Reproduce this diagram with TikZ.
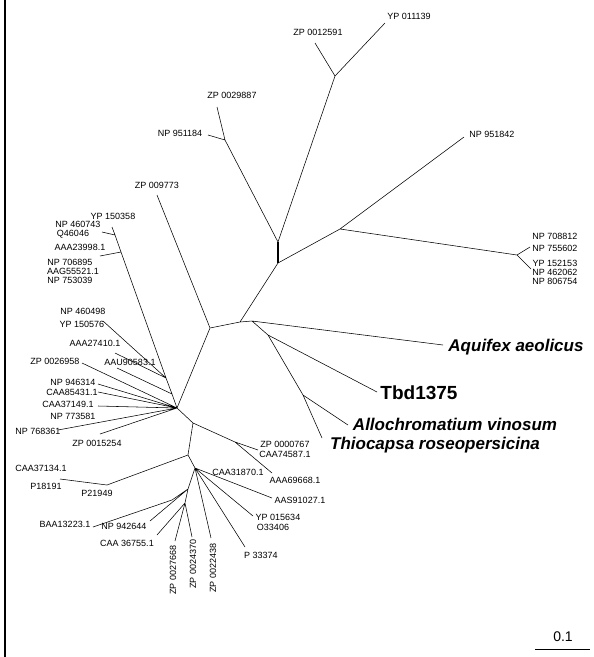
\documentclass[tikz,border=0pt]{standalone}
\usepackage{fontspec}
\setmainfont{Liberation Sans}
\usetikzlibrary{positioning}

\begin{document}
\begin{tikzpicture}[x=1pt,y=-1pt,
  lbl/.style={font=\fontsize{9}{9}\selectfont,inner sep=0pt},
  species/.style={font=\fontsize{17}{18}\selectfont\bfseries\itshape,inner sep=0pt},
  strain/.style={font=\fontsize{19}{20}\selectfont\bfseries,inner sep=0pt},
  branch/.style={line width=0.55pt},
  trunk/.style={line width=1.4pt}
]
\useasboundingbox (0,0) rectangle (594,657);
\coordinate (edgetop) at (5,0);
\coordinate (edgebot) at (5,657);
\draw[line width=1.5pt] (edgetop) -- (edgebot);

% inner nodes of the tree
\coordinate (a) at (278,242);
\coordinate (b) at (278,263);
\coordinate (e) at (335,76);
\coordinate (f) at (225,140);
\coordinate (c) at (340,229);
\coordinate (d) at (517,255);
\coordinate (g) at (240,322);
\coordinate (g2) at (252,321);
\coordinate (i) at (268,335);
\coordinate (j) at (303,395);
\coordinate (h) at (210,328);
\coordinate (k) at (177,408);
\coordinate (q1) at (172,394);
\coordinate (q2) at (166,378);
\coordinate (m) at (121,252);
\coordinate (n) at (115,235);
\coordinate (r) at (193,423);
\coordinate (t) at (235,442);
\coordinate (s) at (188,455);
\coordinate (u) at (107,485);
\coordinate (v) at (195,468);
\coordinate (v2) at (188,489);
\coordinate (v3) at (172,500);
\coordinate (v4) at (185,503);

% leaf ends
\coordinate (tYP011139) at (385,23);
\coordinate (tZP0012591) at (315,43);
\coordinate (tZP0029887) at (217,107);
\coordinate (tNP951184) at (208,135);
\coordinate (tNP951842) at (464,137);
\coordinate (tNP755602) at (530,247);
\coordinate (tYP152153) at (531,269);
\coordinate (tAquifex) at (443,345);
\coordinate (tTbd) at (377,392);
\coordinate (tAllo) at (348,425);
\coordinate (tThio) at (322,438);
\coordinate (tZP009773) at (157,195);
\coordinate (tYP150358) at (112,227);
\coordinate (tNP460743) at (102,232);
\coordinate (tAAA23998) at (100,256);
\coordinate (tYP150576) at (103,321);
\coordinate (tAAA27410) at (115,353);
\coordinate (tAAU90583) at (117,368);
\coordinate (tZP0026958) at (82,363);
\coordinate (tNP946314) at (98,384);
\coordinate (tCAA85431) at (98,392);
\coordinate (tCAA37149) at (98,406);
\coordinate (tNP768361) at (58,430);
\coordinate (tZP0015254) at (100,434);
\coordinate (tZP0000767) at (258,450);
\coordinate (tAAA69668) at (272,473);
\coordinate (tCAA37134) at (60,479);
\coordinate (tAAS91027) at (272,498);
\coordinate (tYP015634) at (253,516);
\coordinate (tP33374) at (245,547);
\coordinate (tZP0022438) at (211,538);
\coordinate (tNP942644) at (150,521);
\coordinate (tBAA13223) at (93,527);
\coordinate (tCAA36755) at (157,535);
\coordinate (tZP0027668) at (175,541);
\coordinate (tZP0024370) at (192,537);

% branches
\draw[trunk] (a) -- (b);
\draw[branch] (a) -- (e) (e) -- (tYP011139) (e) -- (tZP0012591)
  (a) -- (f) (f) -- (tZP0029887) (f) -- (tNP951184)
  (b) -- (c) (c) -- (tNP951842) (c) -- (d) (d) -- (tNP755602) (d) -- (tYP152153)
  (b) -- (g) (g) -- (g2) (g2) -- (tAquifex) (g2) -- (i)
  (i) -- (tTbd) (i) -- (j) (j) -- (tAllo) (j) -- (tThio)
  (g) -- (h) (h) -- (tZP009773) (h) -- (k);
\draw[branch] (k) -- (q1) -- (q2) -- (m) -- (n) -- (tYP150358)
  (n) -- (tNP460743) (m) -- (tAAA23998)
  (q2) -- (tYP150576) (q2) -- (tAAA27410) (q1) -- (tAAU90583)
  (k) -- (tZP0026958) (k) -- (tNP946314) (k) -- (tCAA85431) (k) -- (tCAA37149)
  (k) -- (tNP768361) (k) -- (tZP0015254);
\draw[branch] (k) -- (r) (r) -- (t) (t) -- (tZP0000767) (t) -- (tAAA69668)
  (r) -- (s) (s) -- (u) (u) -- (tCAA37134)
  (s) -- (v) (v) -- (tAAS91027) (v) -- (tYP015634) (v) -- (tP33374) (v) -- (tZP0022438)
  (v) -- (v2) (v2) -- (tNP942644) (v2) -- (v3) (v3) -- (tBAA13223)
  (v2) -- (v4) (v4) -- (tCAA36755) (v4) -- (tZP0027668) (v4) -- (tZP0024370);

% leaf labels
\node[lbl] (yp011139) at (409,16) {YP 011139};
\node[lbl] (zp0012591) at (318,32) {ZP 0012591};
\node[lbl] (zp0029887) at (232,95) {ZP 0029887};
\node[lbl] (np951184) at (180,133) {NP 951184};
\node[lbl] (np951842) at (492,134) {NP 951842};
\node[lbl] (zp009773) at (157,185) {ZP 009773};
\node[lbl] (yp150358) at (113,216) {YP 150358};
\node[lbl] (np460743) at (78,224) {NP 460743};
\node[lbl] (q46046) at (73,234) {Q46046};
\node[lbl] (aaa23998) at (80,247) {AAA23998.1};
\node[lbl] (np706895) at (70,262) {NP 706895};
\node[lbl] (aag55521) at (73,271) {AAG55521.1};
\node[lbl] (np753039) at (70,280) {NP 753039};
\node[lbl] (np460498) at (83,311) {NP 460498};
\node[lbl] (yp150576) at (82,324) {YP 150576};
\node[lbl] (aaa27410) at (95,343) {AAA27410.1};
\node[lbl] (zp0026958) at (55,361) {ZP 0026958};
\node[lbl] (aau90583) at (130,362) {AAU90583.1};
\node[lbl] (np946314) at (73,382) {NP 946314};
\node[lbl] (caa85431) at (72,392) {CAA85431.1};
\node[lbl] (caa37149) at (68,404) {CAA37149.1};
\node[lbl] (np773581) at (73,416) {NP 773581};
\node[lbl] (np768361) at (38,431) {NP 768361};
\node[lbl] (zp0015254) at (97,443) {ZP 0015254};
\node[lbl] (caa37134) at (41,468) {CAA37134.1};
\node[lbl] (p18191) at (46,486) {P18191};
\node[lbl] (p21949) at (97,493) {P21949};
\node[lbl] (baa13223) at (65,524) {BAA13223.1};
\node[lbl] (np942644) at (124,526) {NP 942644};
\node[lbl] (caa36755) at (127,543) {CAA 36755.1};
\node[lbl,rotate=90] (zp0027668) at (173,570) {ZP 0027668};
\node[lbl,rotate=90] (zp0024370) at (193,564) {ZP 0024370};
\node[lbl,rotate=90] (zp0022438) at (213,568) {ZP 0022438};
\node[lbl] (p33374) at (261,555) {P 33374};
\node[lbl] (yp015634) at (278,517) {YP 015634};
\node[lbl] (o33406) at (273,527) {O33406};
\node[lbl] (zp0000767) at (285,444) {ZP 0000767};
\node[lbl] (caa74587) at (285,454) {CAA74587.1};
\node[lbl] (caa31870) at (238,472) {CAA31870.1};
\node[lbl] (aaa69668) at (295,480) {AAA69668.1};
\node[lbl] (aas91027) at (300,500) {AAS91027.1};
\node[lbl] (np708812) at (555,236) {NP 708812};
\node[lbl] (np755602) at (555,248) {NP 755602};
\node[lbl] (yp152153) at (555,263) {YP 152153};
\node[lbl] (np462062) at (555,272) {NP 462062};
\node[lbl] (np806754) at (555,281) {NP 806754};
\node[species] (aquifex) at (516,347) {Aquifex aeolicus};
\node[strain] (tbd) at (419,393) {Tbd1375};
\node[species] (allo) at (455,424) {Allochromatium vinosum};
\node[species] (thio) at (435,445) {Thiocapsa roseopersicina};

% scale bar
\coordinate (barl) at (535,649);
\coordinate (barr) at (590,649);
\draw[line width=0.8pt] (barl) -- (barr);
\node[font=\fontsize{14}{14}\selectfont,inner sep=0pt] (scale) at (563,637) {0.1};
\end{tikzpicture}
\end{document}
